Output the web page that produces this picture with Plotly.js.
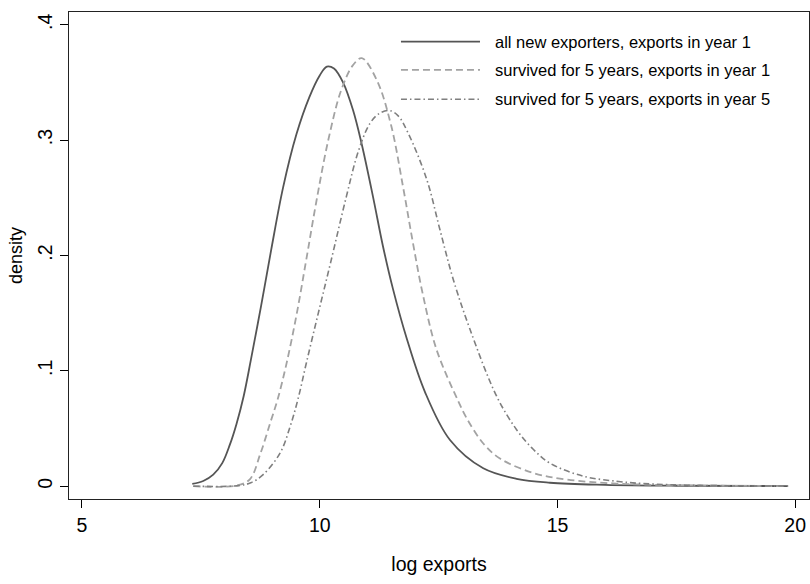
<!DOCTYPE html>
<html>
<head>
<meta charset="utf-8">
<script src="https://cdn.plot.ly/plotly-3.0.1.min.js"></script>
<style>
  html, body { margin: 0; padding: 0; background: #fff; }
  #chart { width: 810px; height: 584px; }
</style>
</head>
<body>
<div id="chart"></div>
<script>
// ---- data ----
const allNewX = [7.32, 7.55, 7.76, 7.95, 8.11, 8.25, 8.40, 8.55, 8.77, 8.98, 9.23, 9.51, 9.78, 10.0, 10.15, 10.3, 10.49, 10.7, 10.88, 11.12, 11.33, 11.54, 11.83, 12.21, 12.74, 13.44, 14.14, 14.84, 16.0, 17.5, 19.85];
const allNewY = [0.002, 0.0045, 0.010, 0.020, 0.036, 0.054, 0.078, 0.109, 0.157, 0.205, 0.259, 0.305, 0.337, 0.356, 0.3637, 0.362, 0.350, 0.326, 0.297, 0.251, 0.208, 0.171, 0.128, 0.082, 0.040, 0.0155, 0.0064, 0.003, 0.0012, 0.0004, 0.0001];

const surv1X = [7.34, 8.25, 8.53, 8.75, 8.96, 9.12, 9.30, 9.51, 9.72, 9.93, 10.18, 10.45, 10.7, 10.885, 11.2, 11.5, 11.75, 11.96, 12.17, 12.46, 12.91, 13.09, 13.44, 13.79, 14.49, 15.19, 16.24, 17.5, 19.85];
const surv1Y = [0.0, 0.0006, 0.006, 0.028, 0.055, 0.076, 0.106, 0.148, 0.197, 0.247, 0.300, 0.343, 0.365, 0.371, 0.352, 0.313, 0.260, 0.211, 0.166, 0.118, 0.074, 0.059, 0.037, 0.024, 0.0115, 0.0058, 0.0023, 0.0008, 0.0001];

const surv5X = [7.34, 8.3, 8.55, 8.81, 9.17, 9.38, 9.54, 9.72, 9.97, 10.23, 10.56, 10.81, 11.05, 11.25, 11.47, 11.65, 11.86, 12.25, 12.53, 12.81, 13.16, 13.72, 14.14, 14.49, 14.84, 15.54, 16.24, 16.80, 18.0, 19.85];
const surv5Y = [0.0, 0.0005, 0.003, 0.010, 0.029, 0.052, 0.075, 0.107, 0.150, 0.194, 0.251, 0.290, 0.314, 0.323, 0.3256, 0.321, 0.306, 0.266, 0.222, 0.179, 0.136, 0.078, 0.049, 0.032, 0.020, 0.0087, 0.0043, 0.0023, 0.0007, 0.0001];

const seriesNames = ["all new exporters, exports in year 1",
                     "survived for 5 years, exports in year 1",
                     "survived for 5 years, exports in year 5"];

const xTickVals = [5, 10, 15, 20];
const xTickText = ["5", "10", "15", "20"];
const yTickVals = [0, 0.1, 0.2, 0.3, 0.4];
const yTickText = ["0", ".1", ".2", ".3", ".4"];

// ---- styles ----
const styles = [
  {color: "#555555", width: 1.8, dash: "solid"},
  {color: "#a3a3a3", width: 1.8, dash: "7px,4px"},
  {color: "#7f7f7f", width: 1.6, dash: "6px,3px,1.5px,3px"}
];
const xs = [allNewX, surv1X, surv5X];
const ys = [allNewY, surv1Y, surv5Y];

const traces = xs.map((x, i) => ({
  type: "scatter", mode: "lines", x: x, y: ys[i], name: seriesNames[i],
  line: {color: styles[i].color, width: styles[i].width, dash: styles[i].dash, shape: "spline", smoothing: 1},
  showlegend: false, hoverinfo: "skip"
}));

const FONT = "Liberation Sans, Arial, Helvetica, sans-serif";

// custom legend (long line samples like the original)
const legRowsY = [0.939, 0.881, 0.8209];
const shapes = [];
const annotations = [];
seriesNames.forEach((n, i) => {
  shapes.push({type: "line", xref: "paper", yref: "paper",
    x0: 0.4486, x1: 0.5554, y0: legRowsY[i], y1: legRowsY[i],
    line: {color: styles[i].color, width: styles[i].width, dash: styles[i].dash}});
  annotations.push({xref: "paper", yref: "paper", x: 0.573, y: legRowsY[i],
    xanchor: "left", yanchor: "middle", showarrow: false, text: n,
    font: {family: FONT, size: 16.5, color: "#000"}});
});

const layout = {
  width: 810, height: 584,
  margin: {l: 69, r: 1, t: 12, b: 84.5, pad: 0},
  paper_bgcolor: "#fff", plot_bgcolor: "#fff",
  font: {family: FONT, color: "#000"},
  xaxis: {
    range: [4.727, 20.29], tickvals: xTickVals, ticktext: xTickText,
    ticks: "outside", ticklen: 8, tickwidth: 1, tickcolor: "#000",
    showline: true, linecolor: "#222", linewidth: 1.3, mirror: true,
    showgrid: false, zeroline: false,
    tickfont: {family: FONT, size: 19.5, color: "#000"},
    title: {text: "log exports", font: {family: FONT, size: 19.5, color: "#000"}, standoff: 22}
  },
  yaxis: {
    range: [-0.0111, 0.411], tickvals: yTickVals, ticktext: yTickText,
    ticks: "outside", ticklen: 8, tickwidth: 1, tickcolor: "#000",
    tickangle: -90,
    showline: true, linecolor: "#222", linewidth: 1.3, mirror: true,
    showgrid: false, zeroline: false,
    tickfont: {family: FONT, size: 19.5, color: "#000"},
    title: {text: "density", font: {family: FONT, size: 18, color: "#000"}, standoff: 6}
  },
  shapes: shapes,
  annotations: annotations,
  showlegend: false
};

Plotly.newPlot("chart", traces, layout, {staticPlot: true, displayModeBar: false});
</script>
</body>
</html>
